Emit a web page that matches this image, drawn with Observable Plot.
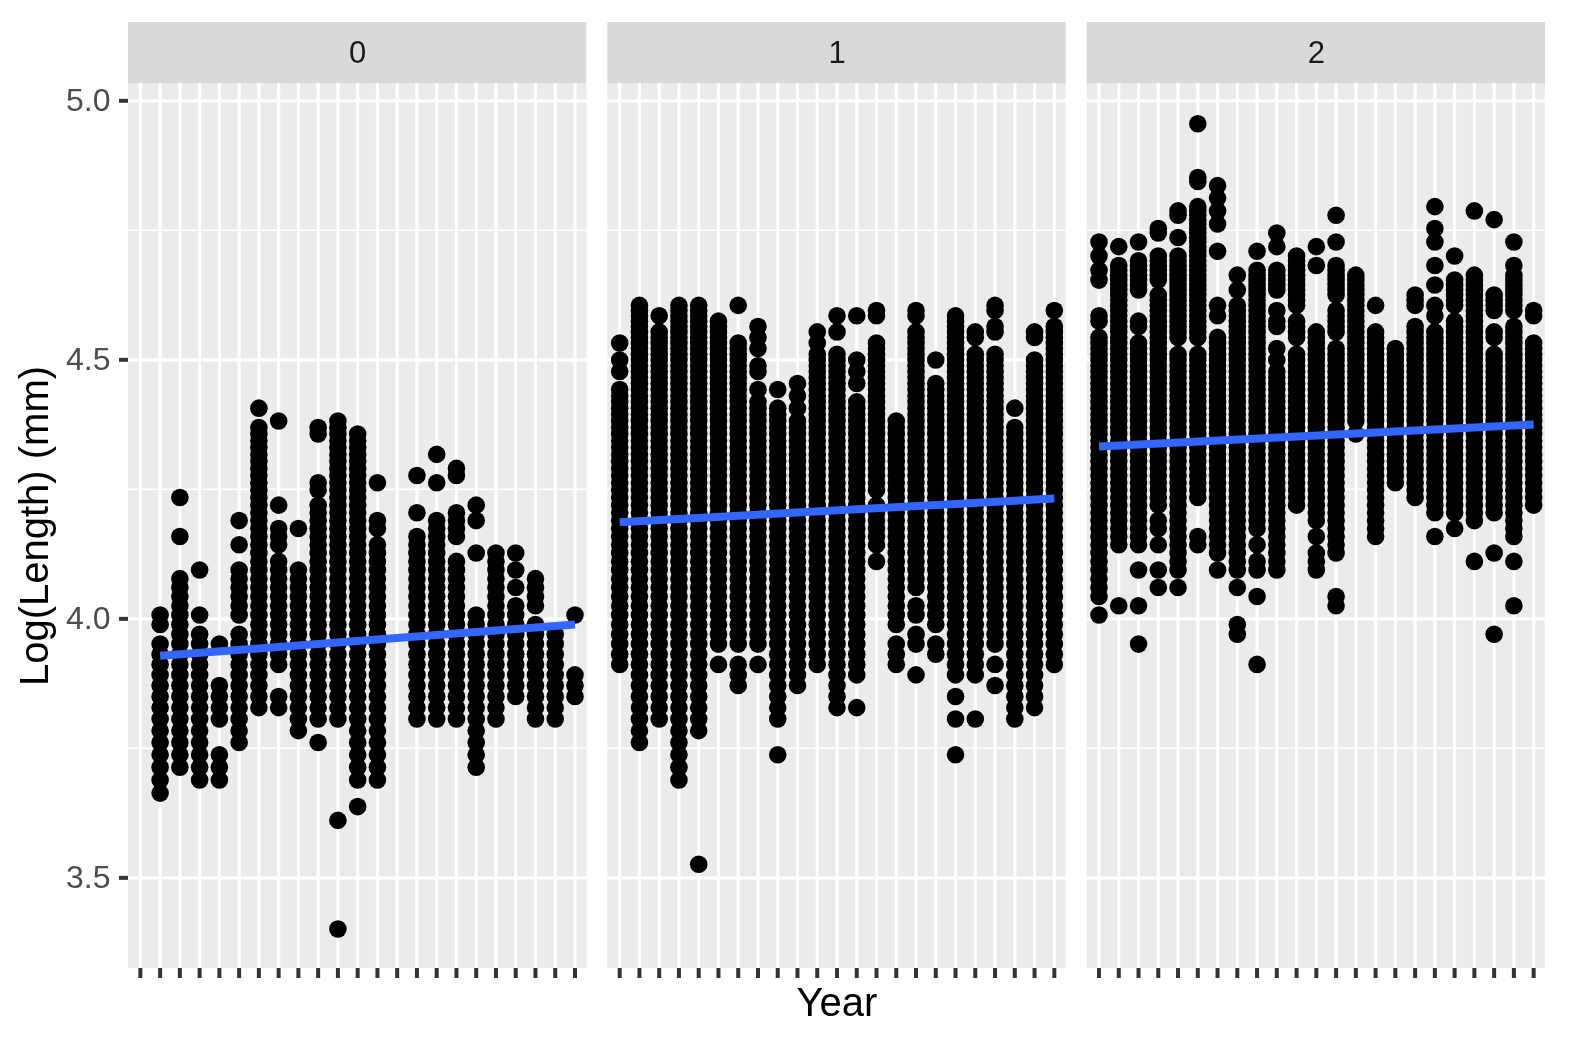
<!DOCTYPE html>
<html><head><meta charset="utf-8">
<script src="https://cdn.jsdelivr.net/npm/d3@7"></script>
<script src="https://cdn.jsdelivr.net/npm/@observablehq/plot@0.6"></script>
<style>html,body{margin:0;padding:0;background:#fff}svg{display:block;filter:blur(0.5px)}</style>
</head><body><div id="chart"></div>
<script>
// Fish lengths (mm) seen in each year column, per age panel; "a-b" = every whole length from a to b seen.
const age0 = ["", "39-52,54,55","41-59,64,69","40-53,55,60","40-42,45-48,52","43-53,55-60,63,66","46-79,82","46,47,50-61,63-65,68,80","44-60,65","43,45-68,70,71,78,79","30,37,45-80","38,40-78","40-63,65,66,71","","45-64,67,72","45-66,71,75","45-61,64-67,72,73","41-55,62,66,68","45-62","47-56,58,60,62","45-54,56-59","45-53","47-49,55"];
const age1 = ["50-85,88,90,93","43-100","45-95,98","40-100","34,44-100","50,52-97","48-50,52-93,100","50,52-83,85,88,89,92,94,96","42,45-82,85","48-80,82,84,86","50-91,93,95","46-91,95,98","46,49-83,86,88,90,98","61,63-68,70-93,98,99","50-52,54-80","49,52,53,55,56,58-95,98,99","51,52,54-86,90","42,45,47,49-98","45,49-91,94,95","48,50,52-91,95,96,99,100","45-79,82","46-90,94,95","50-96,99"];
const age2 = ["55,57-94,97,98,105,107,110,113","56,63-108,112","52,56,60,63-93,96,97,103-109,113","58,60,63,65,66,68-102,105-110,115,116","58,60-91,94-110,114,119,120","63,64,69-91,94-121,127,128,142","60,62-94,98,100,111,117,120,123,126","53,54,58,60-100,103,106","50,57,60,61,63,65-107,111","60-88,90,92,96,97,99,103-107,112,115","68-91,94-97,100-110","60-62,64,66-95,108,112","56,57,62-92,95-99,102-108,113,119","78,80-106","64-95,100","71-92","69-96,100-102","64,67-95,98,100,104,108,113,116,121","65,67-97,100-105,110","61,66-106,120","53,62,67-91,94,95,99-102,118","56,61,64-96,99-106,108,113","68-93,98,99"];
const ages = [0, 1, 2];
const yearSlots = d3.range(1, 24);
const trendAge = [0, 0, 1, 1, 2, 2];
const trendYear = [2, 23, 1, 23, 1, 23];
const trendLog = [3.9286, 3.9890, 4.1865, 4.2322, 4.3326, 4.3751];
const majorY = [3.5, 4.0, 4.5, 5.0];
const minorY = [3.75, 4.25, 4.75];
const panelBottom = 3.325, panelTop = 5.0334, stripTop = 5.1512, tickEnd = 3.3057;

const expand = s => s ? s.split(",").flatMap(p => {
  const [a, b] = p.split("-").map(Number);
  return b === undefined ? [a] : d3.range(a, b + 1);
}) : [];
const fish = [age0, age1, age2].flatMap((cols, age) =>
  cols.flatMap((s, i) => expand(s).map(len => ({age, year: i + 1, log: Math.log(len)}))));
const trend = trendAge.map((age, i) => ({age, year: trendYear[i], log: trendLog[i]}));

const font = '"Liberation Sans", Arial, sans-serif';
const chart = Plot.plot({
  width: 1572, height: 1043,
  marginLeft: 128, marginRight: 27, marginTop: 22, marginBottom: 75,
  style: {fontFamily: font, background: "#fff"},
  fx: {domain: ages, padding: 0.0438, paddingOuter: 0, axis: null, label: null, round: false},
  x: {domain: [0.4, 23.6], axis: null},
  y: {domain: [panelBottom, stripTop], axis: null},
  marks: [
    Plot.rect(ages, {fx: d => d, x1: 0.4, x2: 23.6, y1: panelBottom, y2: panelTop, fill: "#EBEBEB"}),
    Plot.rect(ages, {fx: d => d, x1: 0.4, x2: 23.6, y1: panelTop, y2: stripTop, fill: "#D9D9D9"}),
    Plot.text(ages, {fx: d => d, x: 12, y: (panelTop + stripTop) / 2, text: d => String(d), fontSize: 31, fill: "#1A1A1A"}),
    Plot.ruleY(minorY, {x1: 0.4, x2: 23.6, stroke: "#fff", strokeWidth: 1.5}),
    Plot.ruleX(yearSlots, {y1: panelBottom, y2: panelTop, stroke: "#fff", strokeWidth: 3.2}),
    Plot.ruleY(majorY, {x1: 0.4, x2: 23.6, stroke: "#fff", strokeWidth: 3.2}),
    Plot.ruleX(yearSlots, {y1: panelBottom, y2: tickEnd, stroke: "#333", strokeWidth: 4}),
    Plot.dot(fish, {fx: "age", x: "year", y: "log", r: 8.8, fill: "#000"}),
    Plot.line(trend, {fx: "age", x: "year", y: "log", stroke: "#3366FF", strokeWidth: 8, strokeLinecap: "butt"}),
    Plot.axisY(majorY, {anchor: "left", tickSize: 9, tickPadding: 9, tickFormat: d => d.toFixed(1), fontSize: 32, stroke: "#333", strokeWidth: 4, color: "#4D4D4D", label: null})
  ]
});
document.getElementById("chart").appendChild(chart);
const svg = d3.select(chart);
svg.append("text").attr("x", 837).attr("y", 1016).attr("text-anchor", "middle").attr("font-size", 40).attr("fill", "#000").attr("font-family", font).text("Year");
svg.append("text").attr("transform", "translate(48,526) rotate(-90)").attr("text-anchor", "middle").attr("font-size", 40).attr("fill", "#000").attr("font-family", font).text("Log(Length) (mm)");
</script></body></html>
